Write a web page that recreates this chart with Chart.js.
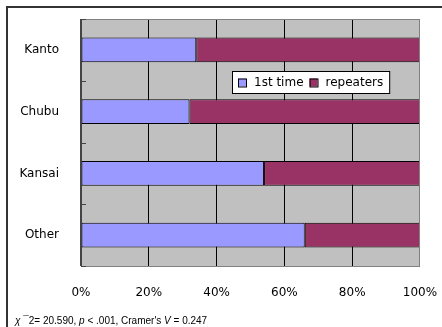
<!DOCTYPE html>
<html>
<head>
<meta charset="utf-8">
<script src="https://cdn.jsdelivr.net/npm/chart.js@4/dist/chart.umd.min.js"></script>
<style>
  html, body { margin: 0; padding: 0; background: #fff; }
  #wrap { width: 442px; height: 327px; position: relative; }
</style>
</head>
<body>
<div id="wrap"><canvas id="c" width="442" height="327"></canvas></div>
<script>
// Regions of residence
const regions = ['Kanto', 'Chubu', 'Kansai', 'Other'];
// Share of visitors (%) by visit type
const firstTime = [34, 32, 54, 66];
const repeaters = [66, 68, 46, 34];
const seriesNames = ['1st time', 'repeaters'];
const seriesColors = ['#9999FF', '#993366'];
const xTicks = [0, 20, 40, 60, 80, 100];

const FONT = '"DejaVu Sans", sans-serif';

// Grey plot background, outer frame and inner tick marks
const frame = {
  id: 'frame',
  beforeDraw(chart) {
    const { ctx, chartArea: a } = chart;
    ctx.save();
    ctx.fillStyle = '#fff';
    ctx.fillRect(0, 0, chart.width, chart.height);
    ctx.strokeStyle = '#333';
    ctx.lineWidth = 2;
    ctx.strokeRect(7, 7, chart.width + 20, chart.height + 20);
    ctx.fillStyle = '#C0C0C0';
    ctx.fillRect(a.left, a.top, a.right - a.left, a.bottom - a.top);
    ctx.restore();
  },
  afterDatasetsDraw(chart) {
    const { ctx, chartArea: a, scales } = chart;
    const y = scales.y;
    ctx.save();
    ctx.strokeStyle = '#808080';
    ctx.lineWidth = 1;
    ctx.strokeRect(a.left + 0.5, a.top + 0.5, a.right - a.left - 1, a.bottom - a.top);
    ctx.strokeStyle = '#444';
    ctx.lineWidth = 2;
    ctx.beginPath();
    ctx.moveTo(a.left, a.top);
    ctx.lineTo(a.left, a.bottom);
    ctx.stroke();
    // inside tick marks at category boundaries
    const half = (y.getPixelForValue(1) - y.getPixelForValue(0)) / 2;
    ctx.lineWidth = 1;
    ctx.beginPath();
    for (let i = 0; i <= regions.length; i++) {
      const py = Math.round(y.getPixelForValue(i) - half) + 0.5;
      ctx.moveTo(a.left, py);
      ctx.lineTo(a.left + 5, py);
    }
    ctx.stroke();
    ctx.restore();
  },
  afterDraw(chart) {
    const { ctx, chartArea: a } = chart;
    // legend box inside the plot
    ctx.save();
    ctx.font = '12px ' + FONT;
    ctx.textBaseline = 'middle';
    const left = a.left + 151, top = a.top + 52, h = 22, sq = 8;
    let w = 6;
    const items = chart.data.datasets.map(ds => {
      const tw = ctx.measureText(ds.label).width;
      const it = { ds, x: w, tw };
      w += sq + 8 + tw + 6;
      return it;
    });
    ctx.fillStyle = '#fff';
    ctx.fillRect(left, top, w, h);
    ctx.strokeStyle = '#000';
    ctx.lineWidth = 1;
    ctx.strokeRect(left + 0.5, top + 0.5, w, h);
    const cy = top + h / 2 + 0.5;
    items.forEach(it => {
      const sx = left + it.x;
      ctx.fillStyle = it.ds.backgroundColor;
      ctx.fillRect(sx, cy - sq / 2, sq, sq);
      ctx.strokeStyle = '#000';
      ctx.strokeRect(sx + 0.5, cy - sq / 2 + 0.5, sq, sq);
      ctx.fillStyle = '#000';
      ctx.fillText(it.ds.label, sx + sq + 8, cy);
    });
    // statistics note
    let x = 15;
    const by = 324;
    ctx.textBaseline = 'alphabetic';
    const parts = [
      ['italic', 'χ '], ['normal', '¯2= 20.590, '], ['italic', 'p'], ['normal', ' < .001, Cramer\'s '],
      ['italic', 'V'], ['normal', ' = 0.247']
    ];
    parts.forEach(([st, t]) => {
      ctx.font = st + ' 10px "Liberation Sans", sans-serif';
      ctx.fillStyle = '#000';
      ctx.fillText(t, x, by);
      x += ctx.measureText(t).width;
    });
    ctx.restore();
  }
};

new Chart(document.getElementById('c'), {
  type: 'bar',
  data: {
    labels: regions,
    datasets: [
      { label: seriesNames[0], data: firstTime, backgroundColor: seriesColors[0], borderColor: '#000', borderWidth: 1, borderSkipped: false },
      { label: seriesNames[1], data: repeaters, backgroundColor: seriesColors[1], borderColor: '#000', borderWidth: 1, borderSkipped: false }
    ]
  },
  options: {
    indexAxis: 'y',
    responsive: false,
    animation: false,
    events: [],
    layout: { padding: { left: 0, right: 22, top: 19, bottom: 21 } },
    datasets: { bar: { barPercentage: 0.4, categoryPercentage: 1 } },
    plugins: { legend: { display: false }, tooltip: { enabled: false } },
    scales: {
      x: {
        stacked: true,
        min: 0, max: 100,
        afterBuildTicks(s) { s.ticks = xTicks.map(v => ({ value: v })); },
        afterFit(s) { s.height = 40; s.paddingLeft = 0; s.paddingRight = 0; },
        grid: {
          drawTicks: false,
          color: ctx => (ctx.tick && (ctx.tick.value === 0 || ctx.tick.value === 100)) ? 'rgba(0,0,0,0)' : '#000',
          lineWidth: 1
        },
        border: { display: false },
        ticks: {
          padding: 20,
          color: '#000',
          font: { family: FONT, size: 12 },
          callback: v => v + '%'
        }
      },
      y: {
        stacked: true,
        afterFit(s) { s.width = 81; s.paddingTop = 0; s.paddingBottom = 0; },
        grid: { display: false },
        border: { display: false },
        ticks: {
          padding: 14,
          color: '#000',
          font: { family: FONT, size: 12 }
        }
      }
    }
  },
  plugins: [frame]
});
</script>
</body>
</html>
